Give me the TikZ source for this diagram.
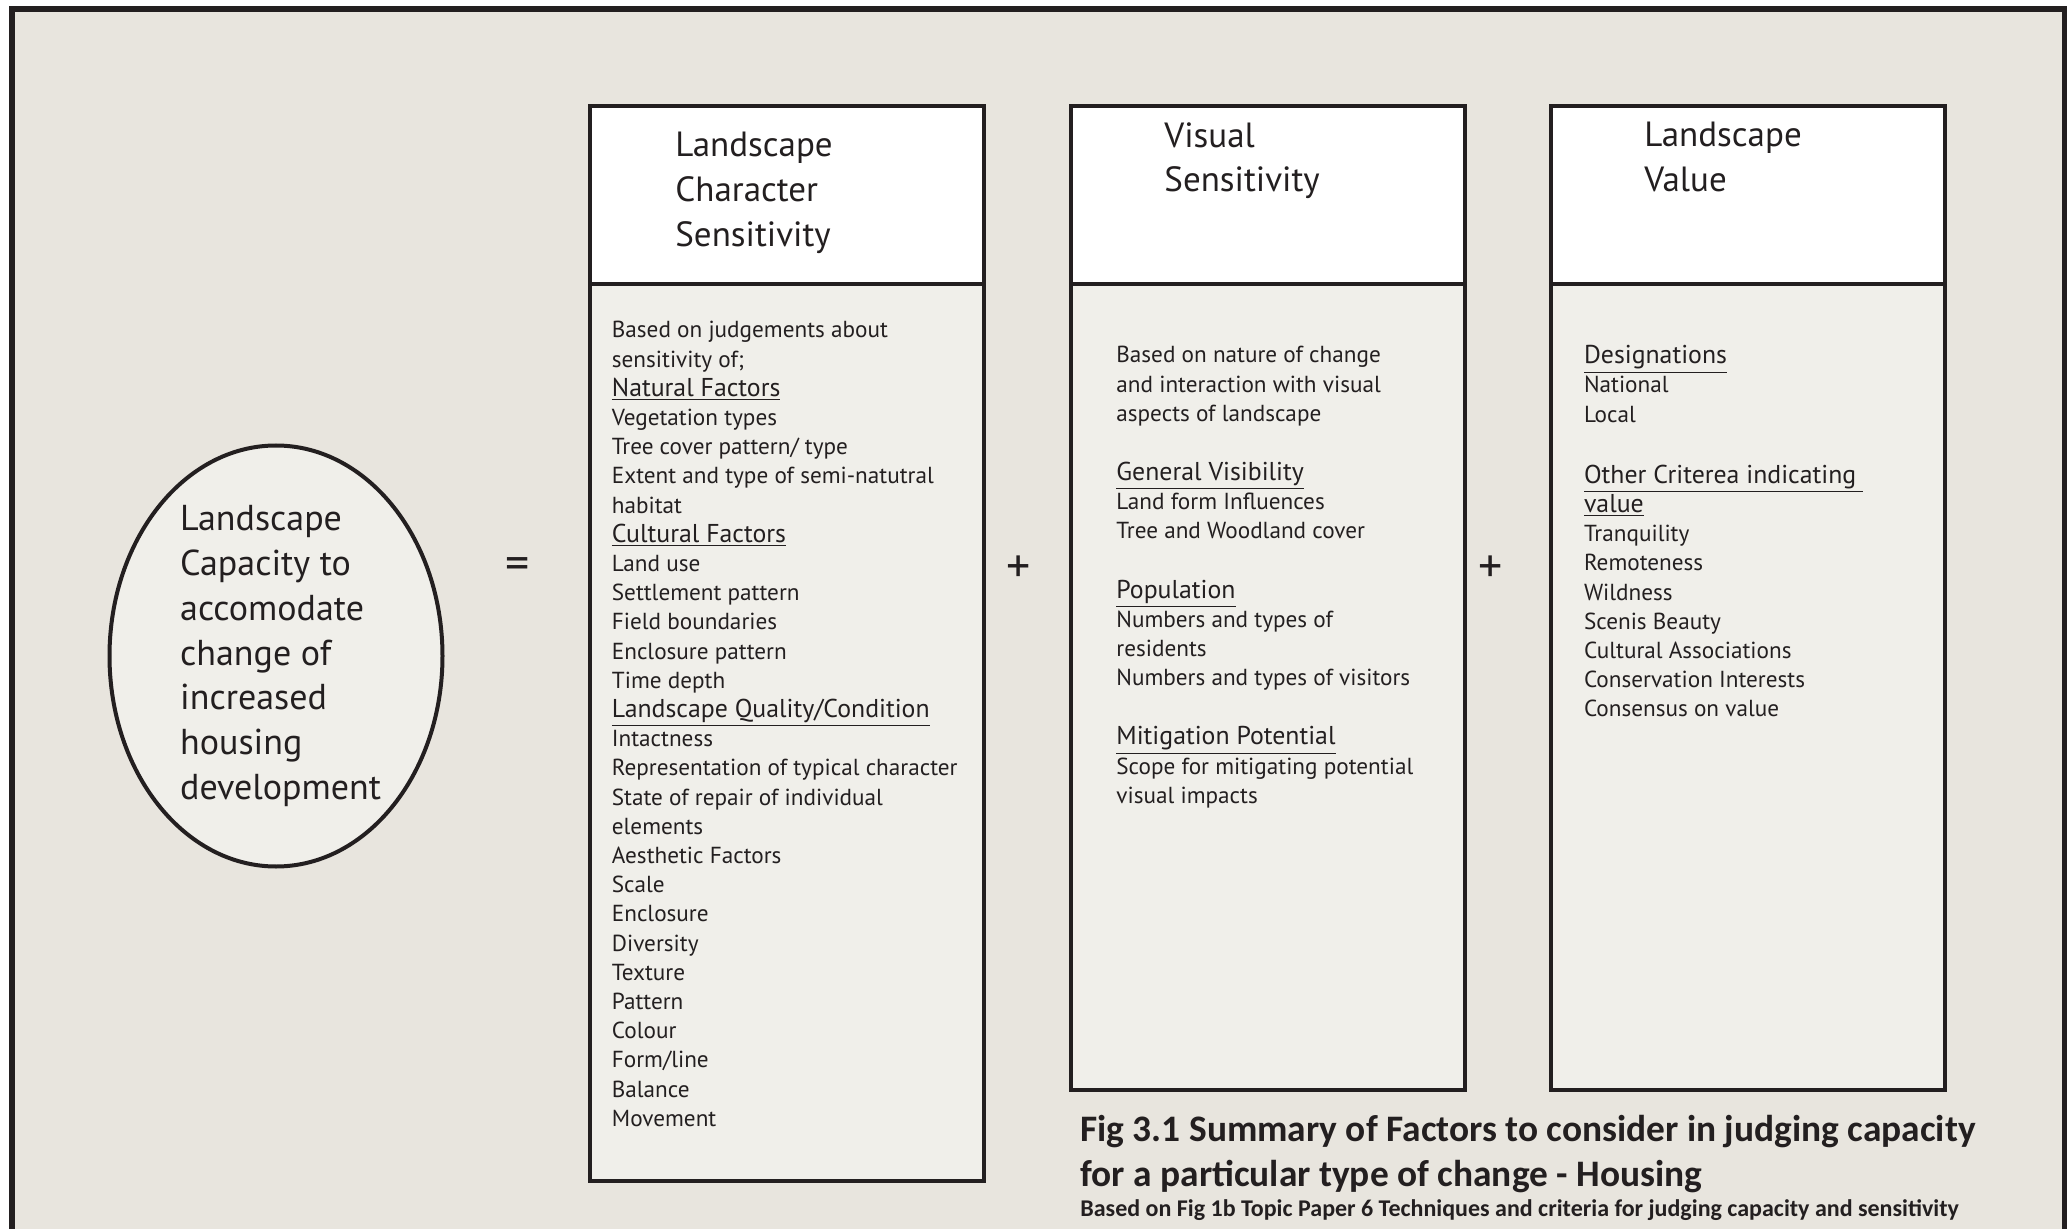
\documentclass[tikz,border=0pt]{standalone}
\usepackage{fontspec}
\setmainfont{PT Sans}
\newfontfamily\capfont{Carlito}
\usetikzlibrary{shapes.geometric,positioning}

\definecolor{ink}{HTML}{231F20}
\definecolor{paper}{HTML}{E8E5DE}
\definecolor{panel}{HTML}{F0EFEA}

\newcommand{\subhd}[1]{{\fontsize{12.9pt}{14.6pt}\selectfont\underline{#1}}}

\tikzset{
  headbox/.style={draw=ink, line width=2.25pt, fill=white, anchor=north west,
    minimum width=197pt, minimum height=89pt, inner sep=0pt, outer sep=0pt},
  bodybox/.style={draw=ink, line width=2.25pt, fill=panel, anchor=north west,
    minimum width=197pt, inner sep=0pt, outer sep=0pt},
  headtext/.style={anchor=north west, align=left, inner sep=0pt,
    font=\fontsize{17.5pt}{22.3pt}\selectfont},
  bodytext/.style={anchor=north west, align=left, inner sep=0pt,
    font=\fontsize{11.6pt}{14.6pt}\selectfont},
  sign/.style={inner sep=0pt, font=\fontsize{24pt}{24pt}\selectfont},
}

\begin{document}
\begin{tikzpicture}[x=0.5pt, y=-0.5pt, every node/.append style={text=ink}]
    \useasboundingbox (0,0) rectangle (2071,1229);
    \fill[white] (0,0) rectangle (2071,1229);
    % frame
    \draw[ink, line width=2.75pt, fill=paper] (12,9) rectangle (2064.5,1245);

    % capacity bubble
    \node[ellipse, draw=ink, line width=2pt, fill=panel, inner sep=0pt,
          minimum width=166.5pt, minimum height=210.5pt] (lc) at (276,656) {};
    \node[align=left, inner sep=0pt, font=\fontsize{18pt}{22.4pt}\selectfont] (lctext) at ([xshift=2.3pt]lc.center)
        {Landscape\\Capacity to\\accomodate\\change of\\increased\\housing\\development};

    \node[sign] (eq) at (518,569) {=};

    % three factor boxes
    \node[headbox] (hdA) at (590,106) {};
    \node[bodybox, minimum height=448.5pt] (bdA) at (hdA.south west) {};
    \node[headbox] (hdB) at ([xshift=43.5pt]hdA.north east) {};
    \node[bodybox, minimum height=403pt] (bdB) at (hdB.south west) {};
    \node[headbox] (hdC) at ([xshift=43pt]hdB.north east) {};
    \node[bodybox, minimum height=403pt] (bdC) at (hdC.south west) {};

    \node[sign] (plusA) at (1019,569) {+};
    \node[sign] (plusB) at (1491,569) {+};

    \node[headtext] (ttlA) at ([xshift=42.5pt, yshift=-13pt]hdA.north west)
        {Landscape\\Character\\Sensitivity};
    \node[headtext] (ttlB) at ([xshift=46.5pt, yshift=-8pt]hdB.north west)
        {Visual\\Sensitivity};
    \node[headtext] (ttlC) at ([xshift=46.5pt, yshift=-8pt]hdC.north west)
        {Landscape\\Value};

    \node[bodytext] (txtA) at ([xshift=10.75pt, yshift=-18.5pt]bdA.north west)
        {Based on judgements about\\
         sensitivity of;\\
         \subhd{Natural Factors}\\
         Vegetation types\\
         Tree cover pattern/ type\\
         Extent and type of semi-natutral\\
         habitat\\
         \subhd{Cultural Factors}\\
         Land use\\
         Settlement pattern\\
         Field boundaries\\
         Enclosure pattern\\
         Time depth\\
         \subhd{Landscape Quality/Condition}\\
         Intactness\\
         Representation of typical character\\
         State of repair of individual\\
         elements\\
         Aesthetic Factors\\
         Scale\\
         Enclosure\\
         Diversity\\
         Texture\\
         Pattern\\
         Colour\\
         Form/line\\
         Balance\\
         Movement};
    \node[bodytext] (txtB) at ([xshift=22.5pt, yshift=-31pt]bdB.north west)
        {Based on nature of change\\
         and interaction with visual\\
         aspects of landscape\\[15pt]
         \subhd{General Visibility}\\
         Land form Influences\\
         Tree and Woodland cover\\[15pt]
         \subhd{Population}\\
         Numbers and types of\\
         residents\\
         Numbers and types of visitors\\[15pt]
         \subhd{Mitigation Potential}\\
         Scope for mitigating potential\\
         visual impacts};
    \node[bodytext] (txtC) at ([xshift=16.3pt, yshift=-30.5pt]bdC.north west)
        {\subhd{Designations}\\
         National\\
         Local\\[16pt]
         \subhd{Other Criterea indicating\ }\\
         \subhd{value}\\
         Tranquility\\
         Remoteness\\
         Wildness\\
         Scenis Beauty\\
         Cultural Associations\\
         Conservation Interests\\
         Consensus on value};

    % caption
    \node[anchor=north west, align=left, inner sep=0pt,
          font=\capfont\bfseries\fontsize{18.7pt}{22.5pt}\selectfont] (cap) at (1080,1115)
        {Fig 3.1 Summary of Factors to consider in judging capacity\\
         for a particular type of change - Housing};
    \node[anchor=north west, inner sep=0pt,
          font=\capfont\bfseries\fontsize{12pt}{13pt}\selectfont] (src) at (1080,1199)
        {Based on Fig 1b Topic Paper 6 Techniques and criteria for judging capacity and sensitivity};
\end{tikzpicture}
\end{document}
